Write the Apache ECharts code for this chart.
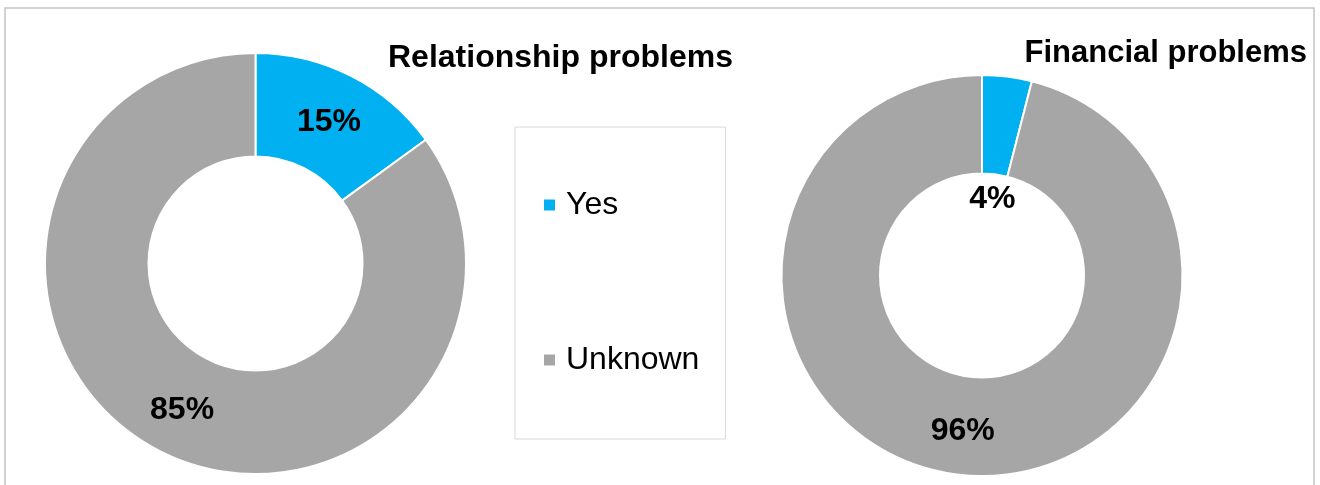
<!DOCTYPE html>
<html>
<head>
<meta charset="utf-8">
<title>Relationship and financial problems</title>
<script src="https://cdn.jsdelivr.net/npm/echarts@6/dist/echarts.min.js"></script>
<style>
  html, body { margin: 0; padding: 0; background: #ffffff; }
  #chart { width: 1320px; height: 485px; }
</style>
</head>
<body>
<div id="chart"></div>
<script>
// Answer categories shared by both donuts
const categories = ['Yes', 'Unknown'];
// Share of cases (%) per category
const relationshipValues = [15, 85];
const financialValues = [4, 96];
// Donut titles
const chartTitles = ['Relationship problems', 'Financial problems'];

const sliceColors = ['#00B0F0', '#A6A6A6'];
const fontFamily = '"Liberation Sans", Arial, sans-serif';

function toData(values) {
  return categories.map((name, i) => ({
    name: name,
    value: values[i],
    itemStyle: { color: sliceColors[i] }
  }));
}

// Nudge the ring labels slightly below the ring's mid-radius
function ringLabels(params) {
  return { dy: 3 };
}

function donut(values, center, radius, labelLayout) {
  return {
    type: 'pie',
    center: center,
    radius: radius,
    startAngle: 90,
    clockwise: true,
    avoidLabelOverlap: false,
    silent: true,
    animation: false,
    itemStyle: { borderColor: '#ffffff', borderWidth: 2 },
    label: {
      show: true,
      position: 'inside',
      formatter: '{c}%',
      color: '#000000',
      fontSize: 32,
      fontWeight: 'bold',
      fontFamily: fontFamily
    },
    labelLine: { show: false },
    labelLayout: labelLayout || ringLabels,
    data: toData(values)
  };
}

const chart = echarts.init(document.getElementById('chart'), null, { renderer: 'canvas' });

chart.setOption({
  backgroundColor: '#ffffff',
  animation: false,
  title: [
    {
      text: chartTitles[0],
      left: 388,
      top: 42,
      padding: 0,
      textStyle: { fontSize: 32, fontWeight: 'bold', color: '#000000', fontFamily: fontFamily }
    },
    {
      text: chartTitles[1],
      right: 13,
      top: 38,
      padding: 0,
      textStyle: { fontSize: 31, fontWeight: 'bold', color: '#000000', fontFamily: fontFamily }
    }
  ],
  legend: {
    data: categories,
    orient: 'vertical',
    left: 515,
    top: 127,
    icon: 'rect',
    itemWidth: 11,
    itemHeight: 11,
    itemGap: 123,
    padding: [62, 26, 63, 29],
    borderColor: '#d9d9d9',
    borderWidth: 1,
    selectedMode: false,
    itemStyle: { borderWidth: 0 },
    textStyle: {
      fontSize: 32,
      color: '#000000',
      fontFamily: fontFamily,
      padding: [0, 0, 0, 6]
    }
  },
  graphic: [
    {
      type: 'rect',
      silent: true,
      z: -10,
      shape: { x: 5, y: 8, width: 1309, height: 520 },
      style: { fill: 'none', stroke: '#c4c4c4', lineWidth: 1.5 }
    }
  ],
  series: [
    donut(relationshipValues, [255.5, 263.5], [107, 210.5]),
    // The thin "Yes" slice keeps its label just inside the hole
    donut(financialValues, [982, 275.5], [102, 200.5], function (params) {
      return params.dataIndex === 0 ? { dx: -9, dy: 77 } : { dy: 3 };
    })
  ]
});
</script>
</body>
</html>
